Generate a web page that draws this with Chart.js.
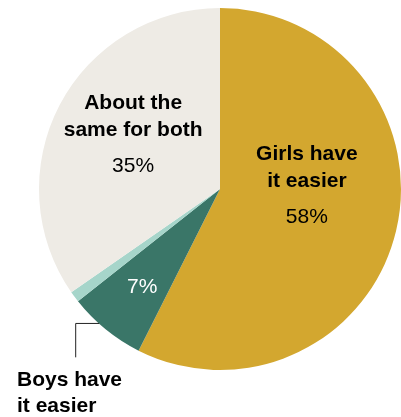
<!DOCTYPE html>
<html>
<head>
<meta charset="utf-8">
<script src="https://cdn.jsdelivr.net/npm/chart.js@4"></script>
<style>
  body { margin: 0; background: #fff; }
  canvas { display: block; }
</style>
</head>
<body>
<canvas id="chart" width="401" height="417"></canvas>
<script>
const categories = ["Girls have it easier", "Boys have it easier", "No answer", "About the same for both"];
const values = [58, 7, 1, 35];
const colors = ["#d3a72f", "#3a7668", "#a6d5ca", "#eeebe5"];

// label text per slice, with position relative to the pie center (in radii)
const labels = [
  { lines: ["Girls have", "it easier"], pct: "58%", dx: 0.48, dy: -0.19, color: "#000" },
  { lines: [], pct: "7%", dx: -0.43, dy: 0.54, color: "#fff" },
  null,
  { lines: ["About the", "same for both"], pct: "35%", dx: -0.48, dy: -0.475, color: "#000" }
];

const labelPlugin = {
  id: "sliceLabels",
  afterDatasetsDraw(chart) {
    const ctx = chart.ctx;
    const arc = chart.getDatasetMeta(0).data[0];
    const cx = arc.x, cy = arc.y, r = arc.outerRadius;
    ctx.save();
    ctx.textAlign = "center";
    ctx.textBaseline = "middle";
    labels.forEach((l) => {
      if (!l) return;
      const x = cx + l.dx * r;
      let y = cy + l.dy * r;
      ctx.fillStyle = l.color;
      ctx.font = "bold 21px 'Liberation Sans', Arial, sans-serif";
      l.lines.forEach((t) => {
        ctx.fillText(t, x, y);
        y += 27;
      });
      if (l.lines.length) y += 9;
      ctx.font = "21px 'Liberation Sans', Arial, sans-serif";
      ctx.fillText(l.pct, x, y);
    });

    // leader line + label for "Boys have it easier"
    ctx.strokeStyle = "#222";
    ctx.lineWidth = 1;
    ctx.beginPath();
    ctx.moveTo(cx - 0.67 * r + 0.5, cy + 0.74 * r + 0.5);
    ctx.lineTo(cx - 0.80 * r + 0.5, cy + 0.74 * r + 0.5);
    ctx.lineTo(cx - 0.80 * r + 0.5, cy + 0.93 * r);
    ctx.stroke();

    ctx.textAlign = "left";
    ctx.fillStyle = "#000";
    ctx.font = "bold 21px 'Liberation Sans', Arial, sans-serif";
    ctx.fillText("Boys have", 17, 380);
    ctx.fillText("it easier", 17, 406);
    ctx.restore();
  }
};

new Chart(document.getElementById("chart").getContext("2d"), {
  type: "pie",
  data: {
    labels: categories,
    datasets: [{
      data: values,
      backgroundColor: colors,
      borderWidth: 0
    }]
  },
  options: {
    responsive: false,
    animation: false,
    layout: { padding: { left: 39, right: 0, top: 8, bottom: 47 } },
    plugins: {
      legend: { display: false },
      tooltip: { enabled: false }
    }
  },
  plugins: [labelPlugin]
});
</script>
</body>
</html>
